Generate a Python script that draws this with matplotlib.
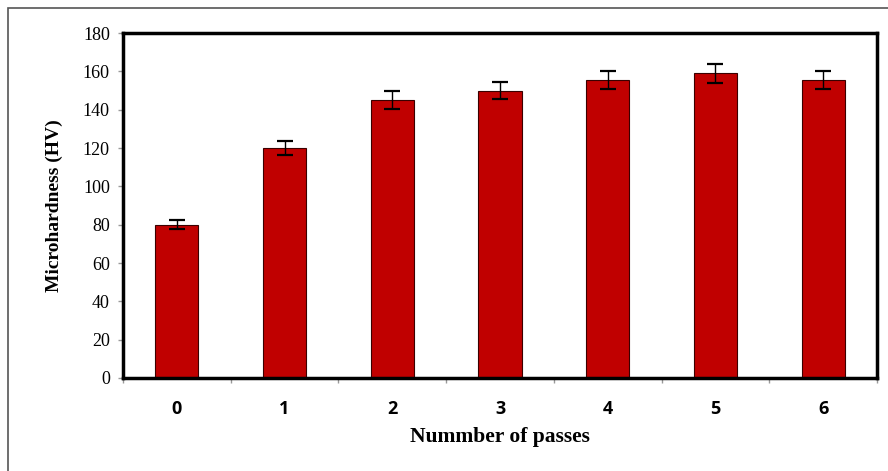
import matplotlib.pyplot as plt
from matplotlib.patches import Rectangle

# data
passes = ['0', '1', '2', '3', '4', '5', '6']
hardness = [80, 120, 145, 150, 155.5, 159, 155.5]
errors = [2.3, 3.5, 4.5, 4.3, 4.8, 5.0, 4.8]

serif = 'Liberation Serif'

fig = plt.figure(figsize=(8.88, 4.71), dpi=100)
fig.patch.set_facecolor('white')

# outer frame (only left and top edges are visible in the picture)
fig.patches.append(Rectangle((8 / 888, -0.1), 1.2, 1 - 8 / 471 + 0.1,
                             transform=fig.transFigure, fill=False,
                             edgecolor='#555555', linewidth=1.2))

ax = fig.add_axes([123 / 888, 1 - 378 / 471, (877 - 123) / 888, (378 - 33) / 471])

x = list(range(len(passes)))
ax.bar(x, hardness, width=0.4, color='#C00000', edgecolor='#3a0000', linewidth=0.8,
       yerr=errors, error_kw=dict(ecolor='black', elinewidth=1.0, capsize=5.5, capthick=1.6))

ax.set_xlim(-0.5, len(passes) - 0.5)
ax.set_ylim(0, 180)
ax.set_yticks(range(0, 181, 20))
ax.set_yticklabels([str(v) for v in range(0, 181, 20)], fontfamily=serif, fontsize=13)

# x ticks sit between categories, labels centred under bars
ax.set_xticks([i - 0.5 for i in range(len(passes) + 1)])
ax.set_xticklabels([''] * (len(passes) + 1))
for i, lab in enumerate(passes):
    ax.text(i, -0.09, lab, transform=ax.get_xaxis_transform(), ha='center', va='center',
            fontfamily='Open Sans', fontweight='bold', fontsize=13)

ax.tick_params(axis='both', direction='out', length=3.5, width=1, color='#999999')
ax.tick_params(axis='y', pad=6)
for s in ax.spines.values():
    s.set_linewidth(2.5)
    s.set_color('black')

ax.set_ylabel('Microhardness (HV)', fontfamily=serif, fontweight='bold', fontsize=14, labelpad=14)
fig.text((123 + 877) / 2 / 888, 1 - 437 / 471, 'Nummber of passes', ha='center', va='center',
         fontfamily=serif, fontweight='bold', fontsize=15.5)

fig.savefig('out.png', dpi=100)
